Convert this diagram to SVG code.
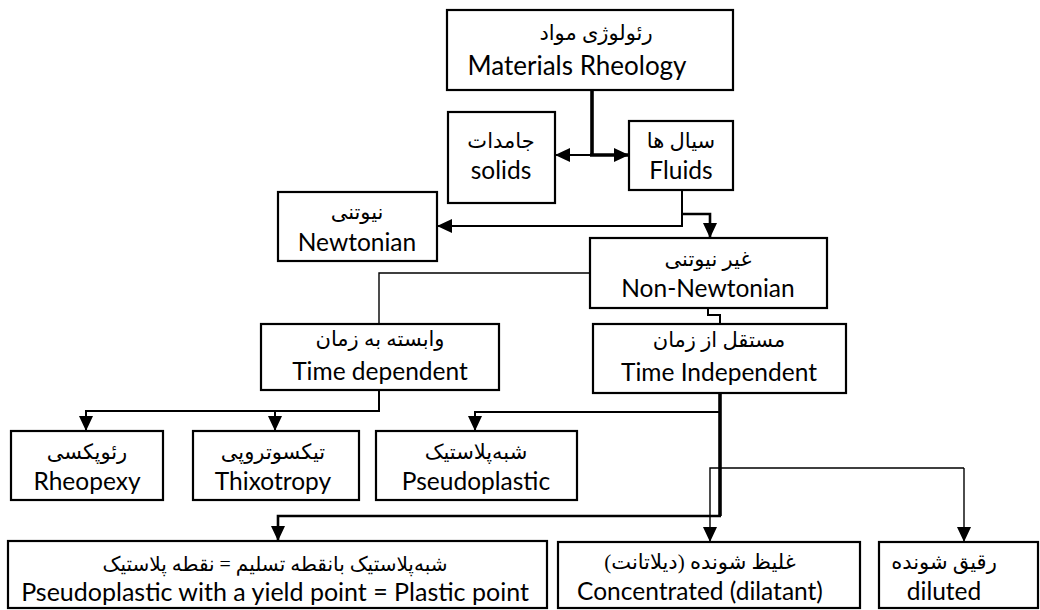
<svg xmlns="http://www.w3.org/2000/svg" width="1040" height="610" viewBox="0 0 1040 610">
<style>
.box{fill:#fff;stroke:#000;stroke-width:2.2}
.en{font-family:Lato,"Liberation Sans",sans-serif;font-size:24.5px;fill:#000;text-anchor:middle}
.fa{font-family:"Liberation Serif","DejaVu Sans",serif;font-size:21px;fill:#000;text-anchor:middle;direction:rtl}
.c{fill:none;stroke:#000;stroke-linejoin:miter}
.t1{stroke-width:1.4}
.t2{stroke-width:2}
.t3{stroke-width:2.6}
.t4{stroke-width:3.6}
</style>
<defs>
<marker id="arr" markerUnits="userSpaceOnUse" markerWidth="15" markerHeight="14" viewBox="0 0 15 14" refX="15" refY="7" orient="auto">
<path d="M0,0 L15,7 L0,14 z" fill="#000"/>
</marker>
</defs>
<rect width="1040" height="610" fill="#fff"/>
<g id="connectors">
<path class="c t4" d="M592,90 V155"/>
<path class="c t4" d="M590,155 H629" marker-end="url(#arr)"/>
<path class="c t2" d="M592,155 H555" marker-end="url(#arr)"/>
<path class="c t2" d="M682,190 V226 H437" marker-end="url(#arr)"/>
<path class="c t3" d="M682,214 H710 V238" marker-end="url(#arr)"/>
<path class="c t1" d="M590,273 H379 V324"/>
<path class="c t2" d="M708,308 V315 H720 V324"/>
<path class="c t2" d="M379,390 V411 H86 V431" marker-end="url(#arr)"/>
<path class="c t2" d="M275,411 V431" marker-end="url(#arr)"/>
<path class="c t4" d="M720,393 V516"/>
<path class="c t2" d="M720,412 H475 V431" marker-end="url(#arr)"/>
<path class="c t3" d="M721,516 H278 V541" marker-end="url(#arr)"/>
<path class="c t1" d="M964,468 H710 V542" marker-end="url(#arr)"/>
<path class="c t1" d="M964,468 V542" marker-end="url(#arr)"/>
</g>
<g id="materials">
<rect class="box" x="447" y="10" width="286" height="80"/>
<text class="fa" x="596" y="40">رئولوژی مواد</text>
<text class="en" x="577" y="75" style="font-size:26px">Materials Rheology</text>
</g>
<g id="solids">
<rect class="box" x="448" y="112" width="107" height="91"/>
<text class="fa" x="501" y="148">جامدات</text>
<text class="en" x="501" y="179">solids</text>
</g>
<g id="fluids">
<rect class="box" x="629" y="121" width="104" height="69"/>
<text class="fa" x="681" y="148">سیال ها</text>
<text class="en" x="681" y="179">Fluids</text>
</g>
<g id="newtonian">
<rect class="box" x="278" y="192" width="159" height="69"/>
<text class="fa" x="357" y="219">نیوتنی</text>
<text class="en" x="357" y="251">Newtonian</text>
</g>
<g id="non-newtonian">
<rect class="box" x="590" y="238" width="237" height="70"/>
<text class="fa" x="708" y="266">غیر نیوتنی</text>
<text class="en" x="708" y="297">Non-Newtonian</text>
</g>
<g id="time-dependent">
<rect class="box" x="261" y="324" width="238" height="66"/>
<text class="fa" x="380" y="346">وابسته به زمان</text>
<text class="en" x="380" y="380">Time dependent</text>
</g>
<g id="time-independent">
<rect class="box" x="593" y="324" width="253" height="69"/>
<text class="fa" x="719" y="347">مستقل از زمان</text>
<text class="en" x="719" y="381">Time Independent</text>
</g>
<g id="rheopexy">
<rect class="box" x="11" y="431" width="152" height="69"/>
<text class="fa" x="87" y="459">رئوپکسی</text>
<text class="en" x="87" y="490">Rheopexy</text>
</g>
<g id="thixotropy">
<rect class="box" x="193" y="431" width="166" height="69"/>
<text class="fa" x="273" y="459">تیکسوتروپی</text>
<text class="en" x="273" y="490">Thixotropy</text>
</g>
<g id="pseudoplastic">
<rect class="box" x="376" y="431" width="201" height="69"/>
<text class="fa" x="476" y="459">شبه‌پلاستیک</text>
<text class="en" x="476" y="490">Pseudoplastic</text>
</g>
<g id="yield-point">
<rect class="box" x="8" y="541" width="539" height="67"/>
<text class="fa" x="275" y="571" style="font-size:20px">شبه‌پلاستیک بانقطه تسلیم = نقطه پلاستیک</text>
<text class="en" x="275" y="601" style="font-size:25px">Pseudoplastic with a yield point = Plastic point</text>
</g>
<g id="concentrated">
<rect class="box" x="558" y="542" width="302" height="66"/>
<text class="fa" x="700" y="569">غلیظ شونده (دیلاتانت)</text>
<text class="en" x="700" y="600">Concentrated (dilatant)</text>
</g>
<g id="diluted">
<rect class="box" x="879" y="542" width="159" height="66"/>
<text class="fa" x="944" y="569">رقیق شونده</text>
<text class="en" x="944" y="600">diluted</text>
</g>
</svg>
